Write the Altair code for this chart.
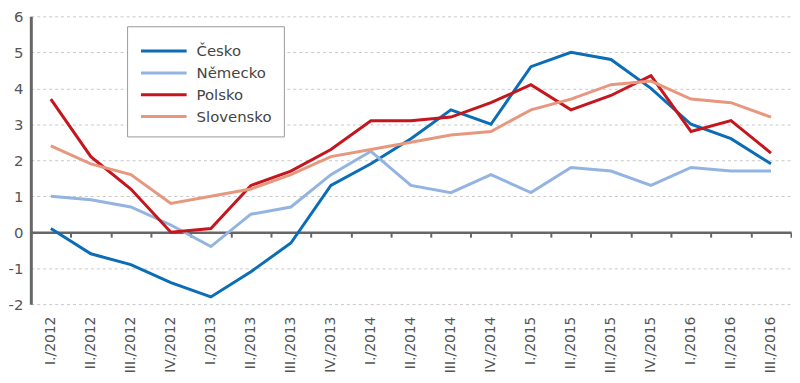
import altair as alt
import pandas as pd

quarters = ["I./2012", "II./2012", "III./2012", "IV./2012",
            "I./2013", "II./2013", "III./2013", "IV./2013",
            "I./2014", "II./2014", "III./2014", "IV./2014",
            "I./2015", "II./2015", "III./2015", "IV./2015",
            "I./2016", "II./2016", "III./2016"]
cesko = [0.1, -0.6, -0.9, -1.4, -1.8, -1.1, -0.3, 1.3, 1.9, 2.6, 3.4, 3.0, 4.6, 5.0, 4.8, 4.0, 3.0, 2.6, 1.9]
nemecko = [1.0, 0.9, 0.7, 0.2, -0.4, 0.5, 0.7, 1.6, 2.25, 1.3, 1.1, 1.6, 1.1, 1.8, 1.7, 1.3, 1.8, 1.7, 1.7]
polsko = [3.7, 2.1, 1.2, 0.0, 0.1, 1.3, 1.7, 2.3, 3.1, 3.1, 3.2, 3.6, 4.1, 3.4, 3.8, 4.35, 2.8, 3.1, 2.2]
slovensko = [2.4, 1.9, 1.6, 0.8, 1.0, 1.2, 1.6, 2.1, 2.3, 2.5, 2.7, 2.8, 3.4, 3.7, 4.1, 4.2, 3.7, 3.6, 3.2]

series_names = ["Česko", "Německo", "Polsko", "Slovensko"]
series_colors = ["#0a6db6", "#93b4e0", "#c4161c", "#e8977f"]
y_ticks = [-2, -1, 0, 1, 2, 3, 4, 5, 6]

rows = []
for name, vals in zip(series_names, [cesko, nemecko, polsko, slovensko]):
    for q, v in zip(quarters, vals):
        rows.append({"q": q, "v": v, "s": name})
df = pd.DataFrame(rows)

W = 766
H = 290
zero_off = H * 2 / 8
FONT = "DejaVu Sans"

chart = alt.Chart(df).mark_line(strokeWidth=3).encode(
    x=alt.X("q:N", sort=quarters, bandPosition=0.5,
            scale=alt.Scale(type="band", paddingInner=0, paddingOuter=0),
            axis=alt.Axis(title=None, labelAngle=-90, labelAlign="right",
                          labelBaseline="middle", labelFont=FONT, labelFontSize=14,
                          labelColor="#555", offset=-zero_off,
                          labelPadding=zero_off + 7, domain=True,
                          domainColor="#666", domainWidth=2.5, ticks=True,
                          tickBand="extent", tickColor="#666", tickWidth=2,
                          tickSize=5, grid=False, labelOverlap=False)),
    y=alt.Y("v:Q", scale=alt.Scale(domain=[-2, 6], nice=False, zero=False),
            axis=alt.Axis(title=None, values=y_ticks, labelExpr="'' + datum.value",
                          labelFont=FONT, labelFontSize=15, labelColor="#555",
                          labelPadding=8, ticks=False, domain=True,
                          domainColor="#666", domainWidth=3,
                          grid=True, gridColor="#c8c8c8", gridDash=[3, 3],
                          gridWidth=1)),
    color=alt.Color("s:N", sort=series_names,
                    scale=alt.Scale(domain=series_names, range=series_colors),
                    legend=alt.Legend(title=None, orient="none", legendX=97, legendY=10,
                                      symbolType="M-2,0L2,0", symbolSize=529,
                                      symbolStrokeWidth=3, labelFont=FONT,
                                      labelFontSize=15, labelColor="#444",
                                      padding=12, rowPadding=1, labelOffset=20,
                                      symbolOffset=12,
                                      strokeColor="#999", fillColor="white")),
    order=alt.Order("s:N"),
).properties(width=W, height=H, padding=0).configure_view(stroke=None)

chart.save("out.html", embed_options={"renderer": "svg", "actions": False})
